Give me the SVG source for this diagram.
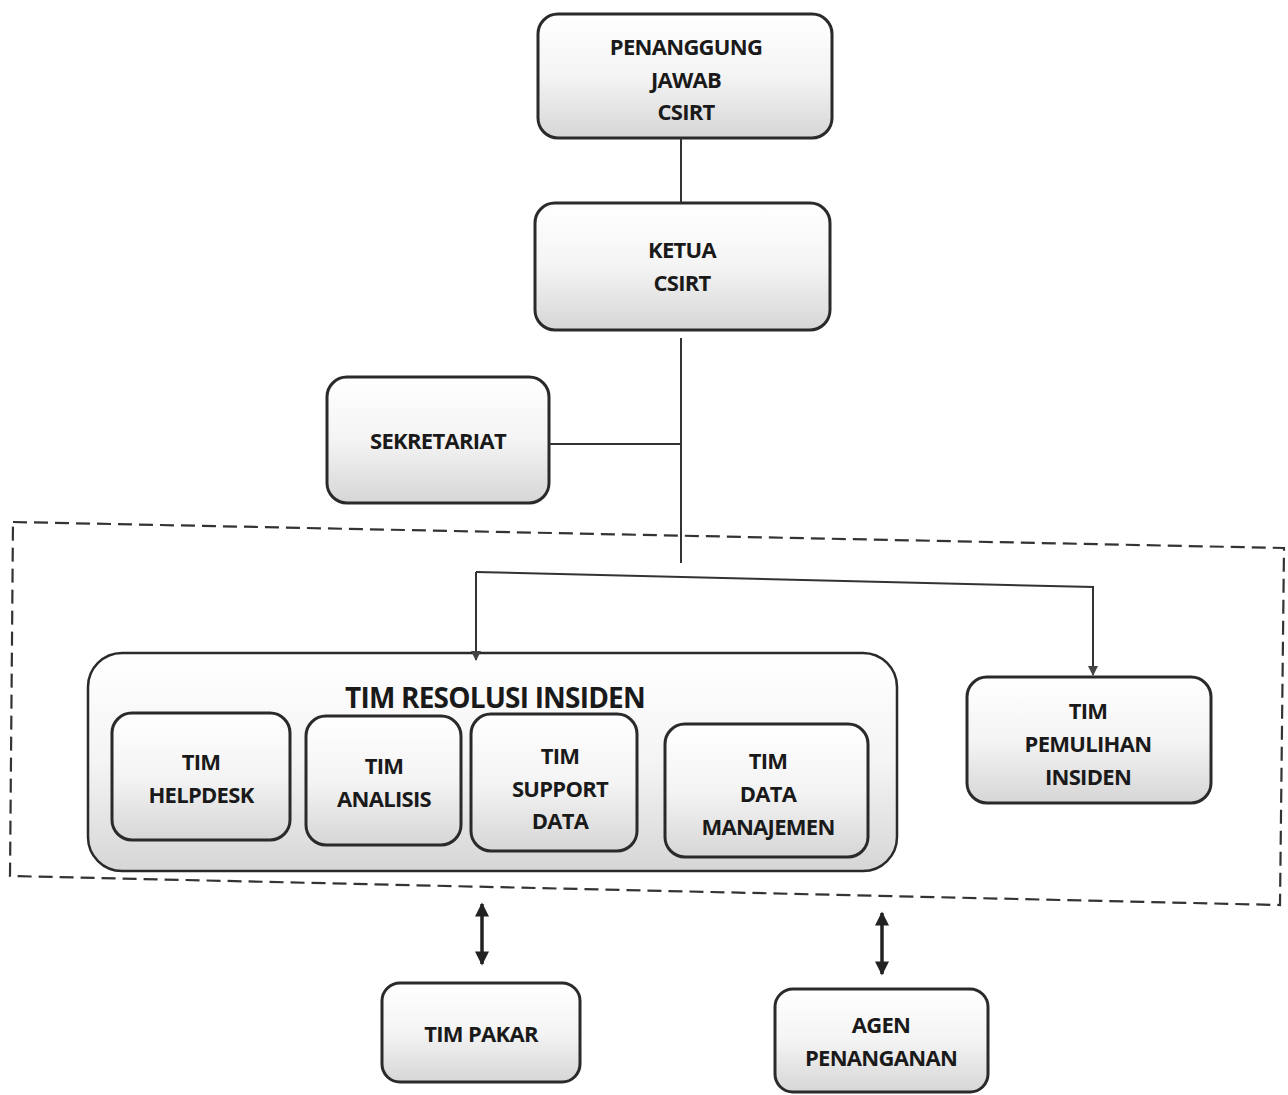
<svg xmlns="http://www.w3.org/2000/svg" width="1288" height="1095" viewBox="0 0 1288 1095">
<defs>
<linearGradient id="g" x1="0" y1="0" x2="0" y2="1">
<stop offset="0" stop-color="#ffffff"/>
<stop offset="0.5" stop-color="#f4f4f4"/>
<stop offset="1" stop-color="#d6d6d6"/>
</linearGradient>
<marker id="ah" viewBox="0 0 10 10" refX="9" refY="5" markerWidth="12" markerHeight="10" orient="auto" markerUnits="userSpaceOnUse">
<path d="M0,0 L10,5 L0,10 z" fill="#444"/>
</marker>
<marker id="ah2" viewBox="0 0 10 10" refX="9" refY="5" markerWidth="16" markerHeight="14" orient="auto-start-reverse" markerUnits="userSpaceOnUse">
<path d="M0,0 L10,5 L0,10 z" fill="#222"/>
</marker>
</defs>
<style>
.box{fill:url(#g);stroke:#2a2a2a;stroke-width:3}
.outer{fill:url(#g);stroke:#2a2a2a;stroke-width:2.5}
.t{font-family:"Open Sans","Liberation Sans",sans-serif;font-weight:700;font-size:22px;letter-spacing:-0.7px;fill:#1a1a1a;text-anchor:middle}
.big{font-size:28px;letter-spacing:-0.8px}
.ln{stroke:#333;stroke-width:2;fill:none}
.dash{fill:none;stroke:#333;stroke-width:2.2;stroke-dasharray:14,7}
.dbl{stroke:#222;stroke-width:3.5;fill:none}
</style>

<g id="boundary">
<polygon class="dash" points="13,522 1284,548 1280,905 10,876"/>
</g>

<g id="penanggung">
<rect class="box" x="538" y="14" width="294" height="124" rx="20"/>
<text class="t" x="686" y="55">PENANGGUNG</text>
<text class="t" x="686" y="88">JAWAB</text>
<text class="t" x="686" y="120">CSIRT</text>
</g>

<g id="ketua">
<rect class="box" x="535" y="203" width="295" height="127" rx="20"/>
<text class="t" x="682" y="258">KETUA</text>
<text class="t" x="682" y="291">CSIRT</text>
</g>

<g id="sekretariat">
<rect class="box" x="327" y="377" width="222" height="126" rx="20"/>
<text class="t" x="438" y="449">SEKRETARIAT</text>
</g>

<g id="tim-resolusi">
<rect class="outer" x="88" y="653" width="809" height="218" rx="34"/>
<text class="t big" x="495" y="708">TIM RESOLUSI INSIDEN</text>
</g>

<g id="helpdesk">
<rect class="box" x="112" y="713" width="178" height="127" rx="20"/>
<text class="t" x="201" y="770">TIM</text>
<text class="t" x="201" y="803">HELPDESK</text>
</g>

<g id="analisis">
<rect class="box" x="306" y="716" width="155" height="129" rx="20"/>
<text class="t" x="384" y="774">TIM</text>
<text class="t" x="384" y="807">ANALISIS</text>
</g>

<g id="support">
<rect class="box" x="471" y="714" width="166" height="137" rx="20"/>
<text class="t" x="560" y="764">TIM</text>
<text class="t" x="560" y="797">SUPPORT</text>
<text class="t" x="560" y="829">DATA</text>
</g>

<g id="manajemen">
<rect class="box" x="665" y="724" width="203" height="133" rx="20"/>
<text class="t" x="768" y="769">TIM</text>
<text class="t" x="768" y="802">DATA</text>
<text class="t" x="768" y="835">MANAJEMEN</text>
</g>

<g id="pemulihan">
<rect class="box" x="967" y="677" width="244" height="126" rx="20"/>
<text class="t" x="1088" y="719">TIM</text>
<text class="t" x="1088" y="752">PEMULIHAN</text>
<text class="t" x="1088" y="785">INSIDEN</text>
</g>

<g id="pakar">
<rect class="box" x="382" y="983" width="198" height="99" rx="18"/>
<text class="t" x="481" y="1042">TIM PAKAR</text>
</g>

<g id="agen">
<rect class="box" x="775" y="989" width="213" height="103" rx="18"/>
<text class="t" x="881" y="1033">AGEN</text>
<text class="t" x="881" y="1066">PENANGANAN</text>
</g>

<g id="connectors">
<line class="ln" x1="681" y1="138" x2="681" y2="203"/>
<line class="ln" x1="681" y1="338" x2="681" y2="563"/>
<line class="ln" x1="549" y1="444" x2="681" y2="444"/>
<polyline class="ln" points="476,572 1093,587 1093,675" marker-end="url(#ah)"/>
<line class="ln" x1="476" y1="572" x2="476" y2="660" marker-end="url(#ah)"/>
<line class="dbl" x1="482" y1="904" x2="482" y2="964" marker-start="url(#ah2)" marker-end="url(#ah2)"/>
<line class="dbl" x1="882" y1="913" x2="882" y2="974" marker-start="url(#ah2)" marker-end="url(#ah2)"/>
</g>
</svg>
